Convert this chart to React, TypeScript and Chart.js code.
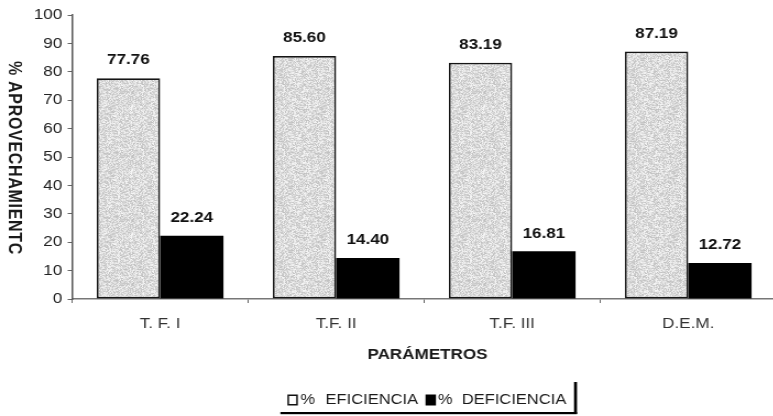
import { useEffect, useRef } from "react";
import { Chart, registerables } from "chart.js";

Chart.register(...registerables);

// ---- data ----
const categories = ["T. F. I", "T.F. II", "T.F. III", "D.E.M."];
const eficiencia = [77.76, 85.6, 83.19, 87.19];
const deficiencia = [22.24, 14.4, 16.81, 12.72];
const seriesNames = ["EFICIENCIA", "DEFICIENCIA"];
const yMin = 0;
const yMax = 100;
const yStep = 10;
const xTitle = "PARÁMETROS";
const yTitle = "% APROVECHAMIENTC";

// ---- drawing setup ----
const FONT = "'Liberation Sans', Arial, Helvetica, sans-serif";
const SX = 1.1; // horizontal stretch applied through CSS
const W = 718; // internal canvas width
const H = 416;
const PLOT_LEFT = 65.5;
const PLOT_RIGHT = 705.5;
const PLOT_TOP = 15;
const PLOT_BOTTOM = 299;

// light grey speckled fill for the first series
function makeStipple(): CanvasPattern | string {
  const size = 64;
  const raw = document.createElement("canvas");
  raw.width = size;
  raw.height = size;
  const g = raw.getContext("2d");
  if (!g) return "#d6d6d6";
  const img = g.createImageData(size, size);
  let s = 987654321;
  for (let i = 0; i < size * size; i++) {
    s = (s * 1103515245 + 12345) & 0x7fffffff;
    const v = 220 + ((s >> 8) % 56) - 28;
    img.data[i * 4] = v;
    img.data[i * 4 + 1] = v;
    img.data[i * 4 + 2] = v;
    img.data[i * 4 + 3] = 255;
  }
  g.putImageData(img, 0, 0);

  // soften the speckle while keeping the tile seamless
  const big = document.createElement("canvas");
  big.width = size * 3;
  big.height = size * 3;
  const bg = big.getContext("2d");
  if (!bg) return g.createPattern(raw, "repeat") || "#d6d6d6";
  bg.filter = "blur(0.6px)";
  for (let i = 0; i < 3; i++)
    for (let j = 0; j < 3; j++) bg.drawImage(raw, i * size, j * size);
  const tile = document.createElement("canvas");
  tile.width = size;
  tile.height = size;
  const tg = tile.getContext("2d");
  if (!tg) return g.createPattern(raw, "repeat") || "#d6d6d6";
  tg.drawImage(big, size, size, size, size, 0, 0, size, size);
  return tg.createPattern(tile, "repeat") || "#d6d6d6";
}

const valueLabels = {
  id: "valueLabels",
  afterDatasetsDraw(chart: any) {
    const ctx = chart.ctx;
    ctx.save();
    ctx.font = `bold 15.5px ${FONT}`;
    ctx.fillStyle = "#111";
    ctx.textAlign = "center";
    ctx.textBaseline = "middle";
    chart.data.datasets.forEach((ds: any, di: number) => {
      const meta = chart.getDatasetMeta(di);
      meta.data.forEach((el: any, i: number) => {
        const v = ds.data[i] as number;
        ctx.fillText(v.toFixed(2), el.x, el.y - 18);
      });
    });
    ctx.restore();
  },
};

const decorations = {
  id: "decorations",
  afterDraw(chart: any) {
    const ctx = chart.ctx;
    const area = chart.chartArea;
    const cx = (area.left + area.right) / 2 + 3;

    // vertical axis title, reading top to bottom
    ctx.save();
    ctx.translate(12.7, (area.top + area.bottom) / 2 + 1);
    ctx.rotate(Math.PI / 2);
    ctx.font = `bold 16px ${FONT}`;
    try {
      (ctx as any).letterSpacing = "0.7px";
    } catch (e) {
      /* not supported */
    }
    ctx.fillStyle = "#1a1a1a";
    ctx.textAlign = "center";
    ctx.textBaseline = "middle";
    ctx.fillText(yTitle, 0, 0);
    ctx.restore();

    // horizontal axis title
    ctx.save();
    ctx.font = `bold 15.5px ${FONT}`;
    ctx.fillStyle = "#1a1a1a";
    ctx.textAlign = "center";
    ctx.textBaseline = "middle";
    ctx.fillText(xTitle, cx, 355);
    ctx.restore();

    // legend
    const left = cx - 127.3;
    const ty = 400;
    ctx.save();
    ctx.font = `15px ${FONT}`;
    ctx.textBaseline = "middle";
    ctx.textAlign = "left";
    // open box
    ctx.fillStyle = "#fff";
    ctx.fillRect(left, ty - 5.5, 9.5, 11);
    ctx.strokeStyle = "#111";
    ctx.lineWidth = 1.5;
    ctx.strokeRect(left + 0.75, ty - 4.75, 8, 9.5);
    ctx.fillStyle = "#1a1a1a";
    ctx.fillText("%", left + 11.8, ty);
    ctx.fillText(seriesNames[0], left + 34.6, ty);
    // filled box
    ctx.fillStyle = "#000";
    ctx.fillRect(left + 125.5, ty - 5.5, 9.5, 11);
    ctx.fillStyle = "#1a1a1a";
    ctx.fillText("%", left + 136.8, ty);
    ctx.fillText(seriesNames[1], left + 158.5, ty);
    // frame: right and bottom edges
    ctx.fillStyle = "#000";
    ctx.fillRect(left + 260.5, 382, 2.7, 32);
    ctx.fillRect(left - 6.4, 412, 269.6, 2.2);
    ctx.restore();
  },
};

export default function App() {
  const ref = useRef<HTMLCanvasElement | null>(null);

  useEffect(() => {
    const canvas = ref.current;
    if (!canvas) return;
    const stipple = makeStipple();
    const chart = new Chart(canvas, {
      type: "bar",
      data: {
        labels: categories,
        datasets: [
          {
            label: seriesNames[0],
            data: eficiencia,
            backgroundColor: stipple as any,
            borderColor: "#151515",
            borderWidth: 1.8,
            borderSkipped: false,
          },
          {
            label: seriesNames[1],
            data: deficiencia,
            backgroundColor: "#000",
            borderColor: "#000",
            borderWidth: 0,
          },
        ],
      },
      options: {
        responsive: false,
        animation: false,
        devicePixelRatio: 1,
        events: [],
        layout: {
          padding: { left: 0, right: W - PLOT_RIGHT, top: PLOT_TOP, bottom: 0 },
        },
        datasets: {
          bar: { categoryPercentage: 0.72, barPercentage: 1 },
        },
        plugins: {
          legend: { display: false },
          tooltip: { enabled: false },
          title: { display: false },
        },
        scales: {
          x: {
            grid: {
              display: true,
              drawOnChartArea: false,
              drawTicks: true,
              tickLength: 4,
              color: "#666",
              lineWidth: 1,
            },
            border: { display: true, color: "#777", width: 1.5 },
            ticks: {
              color: "#333",
              font: { family: FONT, size: 15.5 },
              padding: 11,
              maxRotation: 0,
            },
            afterFit: (s: any) => {
              s.height = H - PLOT_BOTTOM;
            },
          },
          y: {
            min: yMin,
            max: yMax,
            grid: {
              display: true,
              drawOnChartArea: false,
              drawTicks: true,
              tickLength: 4,
              color: "#666",
            },
            border: { display: true, color: "#555", width: 1.5 },
            ticks: {
              stepSize: yStep,
              color: "#222",
              font: { family: FONT, size: 15.5 },
              padding: 5,
            },
            afterFit: (s: any) => {
              s.width = PLOT_LEFT;
            },
          },
        },
      },
      plugins: [valueLabels, decorations],
    });
    return () => chart.destroy();
  }, []);

  return (
    <div
      style={{
        position: "absolute",
        left: 0,
        top: 0,
        width: 773,
        height: H,
        overflow: "hidden",
        background: "#fff",
      }}
    >
      <canvas
        ref={ref}
        width={W}
        height={H}
        style={{ width: `${W * SX}px`, height: `${H}px`, display: "block" }}
      />
    </div>
  );
}
